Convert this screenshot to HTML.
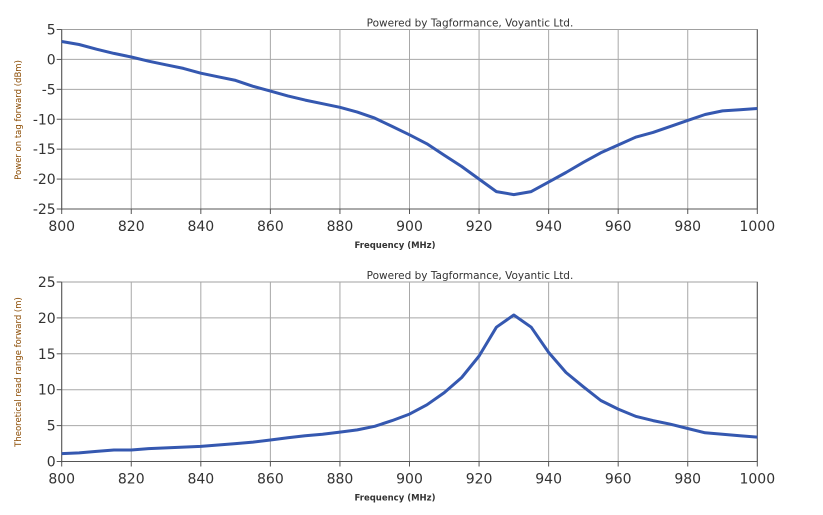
<!DOCTYPE html>
<html><head><meta charset="utf-8"><style>
body{margin:0;background:#fff;width:823px;height:515px;overflow:hidden}
svg{display:block;font-family:"DejaVu Sans","Liberation Sans",sans-serif}
</style></head><body>
<svg id="s" width="823" height="515" xmlns="http://www.w3.org/2000/svg"></svg>
<script>
const s=document.getElementById('s');
const X0=61.7,X1=757.3;
function xp(f){return X0+(f-800)*(X1-X0)/200;}
let h='';
function chart(top,bot,ymin,ymax,step,data,ylabel,ylabelY){
  const yp=v=>bot-(v-ymin)*(bot-top)/(ymax-ymin);
  h+=`<rect x="${X0}" y="${top}" width="${X1-X0}" height="${bot-top}" fill="#fff" stroke="#a0a0a0"/>`;
  for(let f=820;f<1000;f+=20)h+=`<line x1="${xp(f)}" x2="${xp(f)}" y1="${top}" y2="${bot}" stroke="#a8a8a8"/>`;
  for(let v=ymin+step;v<ymax;v+=step)h+=`<line x1="${X0}" x2="${X1}" y1="${yp(v)}" y2="${yp(v)}" stroke="#a8a8a8"/>`;
  h+=`<line x1="${X0}" x2="${X0}" y1="${top}" y2="${bot+1}" stroke="#555"/><line x1="${X0}" x2="${X1}" y1="${bot}" y2="${bot}" stroke="#555"/><line x1="${X1}" x2="${X1}" y1="${top}" y2="${bot}" stroke="#555"/>`;
  for(let v=ymin;v<=ymax;v+=step){const y=yp(v);h+=`<line x1="${X0-5}" x2="${X0}" y1="${y}" y2="${y}" stroke="#555"/><text x="${X0-6}" y="${y+5}" font-size="14" text-anchor="end" fill="#333">${v}</text>`;}
  for(let f=800;f<=1000;f+=20){const x=xp(f);h+=`<line x1="${x}" x2="${x}" y1="${bot}" y2="${bot+5}" stroke="#555"/><text x="${x}" y="${bot+22}" font-size="14" text-anchor="middle" fill="#333">${f}</text>`;}
  const pts=data.map((v,i)=>xp(800+5*i).toFixed(1)+','+yp(v).toFixed(1)).join(' ');
  h+=`<polyline points="${pts}" fill="none" stroke="#3558b0" stroke-width="3" stroke-linejoin="round"/>`;
  h+=`<text x="470" y="${top-3}" font-size="10.5" text-anchor="middle" fill="#333">Powered by Tagformance, Voyantic Ltd.</text>`;
  h+=`<text x="395" y="${bot+39}" font-size="8.5" font-weight="bold" text-anchor="middle" fill="#333">Frequency (MHz)</text>`;
  h+=`<text transform="translate(21,${ylabelY}) rotate(-90)" font-size="8.5" text-anchor="middle" fill="#8a4a00">${ylabel}</text>`;
}
chart(29.5,209,-25,5,5,[3,2.5,1.7,1,0.4,-0.3,-0.9,-1.5,-2.3,-2.9,-3.5,-4.5,-5.3,-6.1,-6.8,-7.4,-8,-8.8,-9.8,-11.2,-12.6,-14.1,-16,-17.9,-20,-22.1,-22.6,-22.1,-20.5,-18.9,-17.2,-15.6,-14.3,-13,-12.2,-11.2,-10.2,-9.2,-8.6,-8.4,-8.2],'Power on tag forward (dBm)',120);
chart(282,461.5,0,25,5,[1.1,1.2,1.4,1.6,1.6,1.8,1.9,2,2.1,2.3,2.5,2.7,3,3.3,3.6,3.8,4.1,4.4,4.9,5.7,6.6,7.9,9.6,11.7,14.7,18.7,20.4,18.7,15.2,12.4,10.4,8.5,7.3,6.3,5.7,5.2,4.6,4,3.8,3.6,3.4],'Theoretical read range forward (m)',372);
s.innerHTML=h;
</script>
</body></html>
